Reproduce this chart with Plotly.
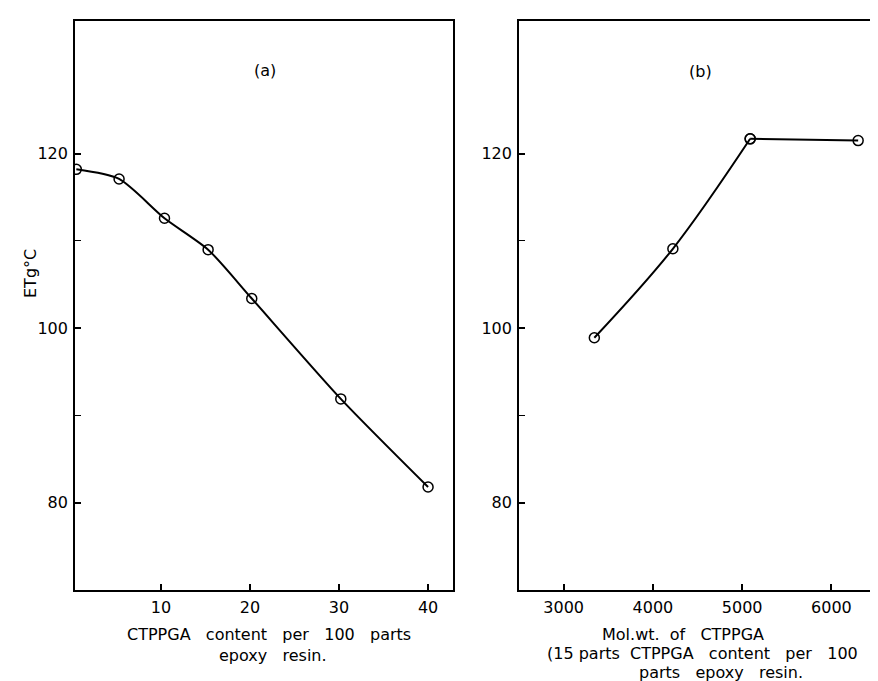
import plotly.graph_objects as go

# Panel (a): CTPPGA content per 100 parts epoxy resin vs ETg
content_a = [0.5, 5.3, 10.4, 15.3, 20.2, 30.2, 40.0]
etg_a = [118.2, 117.1, 112.6, 109.0, 103.4, 91.9, 81.8]

# Panel (b): Mol. wt. of CTPPGA vs ETg
molwt_b = [3344, 4224, 5090, 6300]
etg_b = [98.9, 109.1, 121.7, 121.5]

xticks_a = [10, 20, 30, 40]
xticks_b = [3000, 4000, 5000, 6000]
yticks = [80, 100, 120]
yminor = [90, 110]

W, H = 878, 681
FONT = "DejaVu Sans"
FS = 16
NB = "\u00a0"
G = NB * 3


def px(x):
    return x / W


def py(y):
    return 1 - y / H


fig = go.Figure()

line_style = dict(color="black", width=2)
marker_style = dict(symbol="circle-open", size=10, color="black", line=dict(width=1.5, color="black"))

fig.add_trace(go.Scatter(x=content_a, y=etg_a, mode="lines+markers",
                         line=dict(shape="spline", smoothing=0.7, **line_style),
                         marker=marker_style, xaxis="x", yaxis="y", showlegend=False))
fig.add_trace(go.Scatter(x=molwt_b[:3], y=etg_b[:3], mode="lines+markers",
                         line=dict(shape="spline", smoothing=1.0, **line_style),
                         marker=marker_style, xaxis="x2", yaxis="y2", showlegend=False))
fig.add_trace(go.Scatter(x=molwt_b[2:], y=etg_b[2:], mode="lines+markers", line=dict(shape="linear", **line_style),
                         marker=marker_style, xaxis="x2", yaxis="y2", showlegend=False))

common_x = dict(showline=True, linecolor="black", linewidth=1.7, mirror=True, ticks="inside", ticklen=6,
                tickwidth=1.5, tickcolor="black", showgrid=False, zeroline=False, ticklabelstandoff=2,
                tickfont=dict(family=FONT, size=FS, color="black"))
common_y = dict(showline=True, linecolor="black", linewidth=1.7, mirror=True, ticks="inside", ticklen=6,
                tickwidth=1.5, tickcolor="black", showgrid=False, zeroline=False, range=[70, 135.2],
                tickvals=yticks, ticktext=[str(v) for v in yticks], ticklabelstandoff=2,
                minor=dict(tickvals=yminor, ticks="inside", ticklen=6, tickwidth=1.3, tickcolor="black", showgrid=False),
                tickfont=dict(family=FONT, size=FS, color="black"))

fig.update_layout(
    width=W, height=H,
    margin=dict(l=0, r=0, t=0, b=0),
    paper_bgcolor="white", plot_bgcolor="white",
    font=dict(family=FONT, size=FS, color="black"),
    xaxis=dict(domain=[px(67), px(445)], range=[0.35, 42.8], tickvals=xticks_a,
               ticktext=[str(v) for v in xticks_a], anchor="y", **common_x),
    yaxis=dict(domain=[py(582), py(13)], anchor="x", **common_y),
    xaxis2=dict(domain=[px(511), px(868)], range=[2500, 6500], tickvals=xticks_b,
                ticktext=[str(v) for v in xticks_b], anchor="y2", **common_x),
    yaxis2=dict(domain=[py(582), py(13)], anchor="x2", **common_y),
)

annots = [
    ("(a)", 257, 62, 0),
    ("(b)", 692, 63, 0),
    ("CTPPGA" + G + "content" + G + "per" + G + "100" + G + "parts", 261, 626, 0),
    ("epoxy" + G + "resin.", 265, 647, 0),
    ("Mol.wt." + NB * 2 + "of" + G + "CTPPGA", 675, 626, 0),
    ("(15" + NB + "parts" + NB * 2 + "CTPPGA" + G + "content" + G + "per" + G + "100", 694, 645, 0),
    ("parts" + G + "epoxy" + G + "resin.", 713, 664, 0),
    ("ETg°C", 23, 266, -90),
]
for text, x, y, ang in annots:
    fig.add_annotation(text=text, x=px(x), y=py(y), xref="paper", yref="paper", showarrow=False,
                       xanchor="center", yanchor="middle", textangle=ang,
                       font=dict(family=FONT, size=FS, color="black"))

fig.write_html("out.html")
